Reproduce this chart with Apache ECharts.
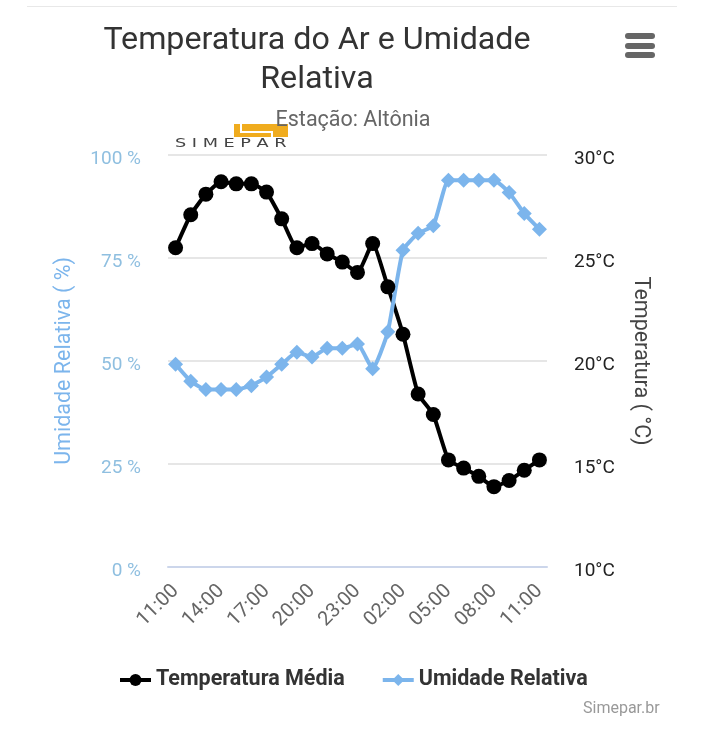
<!DOCTYPE html>
<html>
<head>
<meta charset="utf-8">
<style>
  html, body { margin: 0; padding: 0; background: #fff; }
  #chart { width: 704px; height: 750px; }
</style>
<script src="https://cdn.jsdelivr.net/npm/echarts@6/dist/echarts.min.js"></script>
</head>
<body>
<div id="chart"></div>
<script>
// dados, de hora em hora
const hours = ['11:00','12:00','13:00','14:00','15:00','16:00','17:00','18:00','19:00','20:00','21:00','22:00','23:00',
  '00:00','01:00','02:00','03:00','04:00','05:00','06:00','07:00','08:00','09:00','10:00','11:00'];
const temperatura = [25.5,27.1,28.1,28.7,28.6,28.6,28.2,26.9,25.5,25.7,25.2,24.8,24.3,25.7,23.6,21.3,18.4,17.4,15.2,14.8,14.4,13.9,14.2,14.7,15.2];
const umidade = [49.2,45.1,43.1,43.1,43.1,44,46.1,49.2,52.1,51,53.1,53.1,54.1,48.1,57.1,76.9,81,82.8,93.9,93.9,93.9,93.9,90.9,85.8,82];

const blue = '#7cb5ec';
const font = 'Roboto';

const chart = echarts.init(document.getElementById('chart'), null, { renderer: 'canvas' });

const option = {
  backgroundColor: '#fff',
  animation: false,
  textStyle: { fontFamily: font },
  title: [
    {
      text: 'Temperatura do Ar e Umidade\nRelativa',
      left: 312, top: 16, textAlign: 'center',
      textStyle: { fontFamily: font, fontSize: 32.2, fontWeight: 'normal', color: '#333', lineHeight: 39 }
    },
    {
      text: 'Estação: Altônia',
      left: 348, top: 105, textAlign: 'center',
      textStyle: { fontFamily: font, fontSize: 21.5, fontWeight: 'normal', color: '#666' }
    }
  ],
  legend: {
    top: 664, left: 113,
    itemWidth: 31, itemHeight: 15, itemGap: 36,
    lineStyle: { width: 4 },
    textStyle: { fontFamily: font, fontSize: 21.5, fontWeight: 'bold', color: '#333' },
    data: ['Temperatura Média', 'Umidade Relativa']
  },
  grid: { left: 168, right: 157, top: 155, height: 412 },
  xAxis: {
    type: 'category',
    data: hours,
    axisTick: { show: false },
    axisLine: { lineStyle: { color: '#ccd6eb', width: 2 } },
    axisLabel: { interval: 2, rotate: 45, fontSize: 20, color: '#666', fontFamily: font, margin: 21 }
  },
  yAxis: [
    {
      type: 'value', min: 0, max: 100, interval: 25,
      name: 'Umidade Relativa ( %)',
      nameLocation: 'middle', nameRotate: 90, nameGap: 92,
      nameTextStyle: { color: blue, fontSize: 21.5, fontFamily: font },
      axisLabel: { formatter: '{value} %', color: '#8fbfe0', fontSize: 19, fontFamily: font, margin: 27, verticalAlign: 'top', lineHeight: 8 },
      axisLine: { show: false }, axisTick: { show: false },
      splitLine: { lineStyle: { color: '#e6e6e6', width: 2 } }
    },
    {
      type: 'value', min: 10, max: 30, interval: 5,
      name: 'Temperatura ( °C)',
      nameLocation: 'middle', nameRotate: -90, nameGap: 82,
      nameTextStyle: { color: '#444', fontSize: 21.5, fontFamily: font },
      axisLabel: { formatter: '{value}°C', color: '#222', fontSize: 19, fontFamily: font, margin: 27, verticalAlign: 'top', lineHeight: 8 },
      axisLine: { show: false }, axisTick: { show: false },
      splitLine: { show: false }
    }
  ],
  series: [
    {
      name: 'Temperatura Média',
      type: 'line', yAxisIndex: 1, data: temperatura,
      smooth: 0.15,
      showAllSymbol: true,
      symbol: 'circle', symbolSize: 15,
      lineStyle: { color: '#000', width: 4 },
      itemStyle: { color: '#000' }
    },
    {
      name: 'Umidade Relativa',
      type: 'line', yAxisIndex: 0, data: umidade,
      smooth: 0.15,
      showAllSymbol: true,
      symbol: 'diamond', symbolSize: 15,
      lineStyle: { color: blue, width: 4 },
      itemStyle: { color: blue }
    }
  ],
  graphic: [
    // linha no topo da pagina
    { type: 'rect', shape: { x: 27, y: 6, width: 650, height: 1 }, style: { fill: '#e8e8e8' } },
    // menu
    { type: 'rect', shape: { x: 625, y: 33, width: 30, height: 6, r: 3 }, style: { fill: '#666' } },
    { type: 'rect', shape: { x: 625, y: 43, width: 30, height: 6, r: 3 }, style: { fill: '#666' } },
    { type: 'rect', shape: { x: 625, y: 52, width: 30, height: 6, r: 3 }, style: { fill: '#666' } },
    // logo simepar
    { type: 'rect', shape: { x: 234, y: 124, width: 54, height: 13 }, style: { fill: '#f0ac1e' } },
    { type: 'polyline', shape: { points: [[241, 123], [241, 132], [272, 132], [272, 138]] }, style: { stroke: '#fff', lineWidth: 2, fill: null } },
    { type: 'text', x: 175, y: 137, scaleX: 1.36, style: { text: 'S I M E P A R', fontFamily: 'DejaVu Sans', fontSize: 13, fill: '#444' } },
    // creditos
    { type: 'text', left: 583, top: 701, style: { text: 'Simepar.br', fontFamily: font, fontSize: 16, fill: '#999' } }
  ]
};

chart.setOption(option);
</script>
</body>
</html>
